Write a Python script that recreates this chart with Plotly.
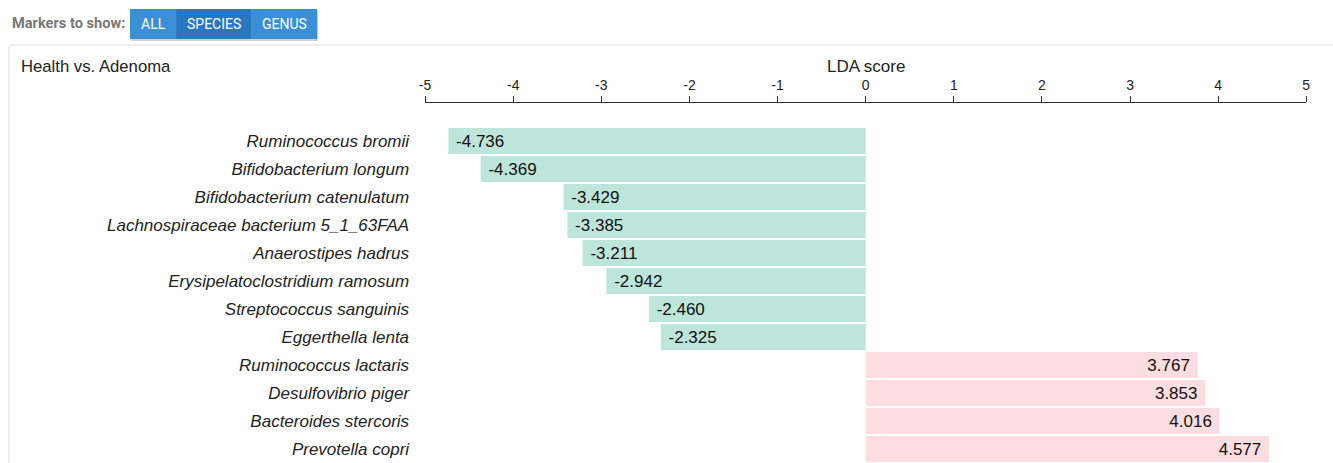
import plotly.graph_objects as go

W, H = 1333, 463

species = [
    "Ruminococcus bromii",
    "Bifidobacterium longum",
    "Bifidobacterium catenulatum",
    "Lachnospiraceae bacterium 5_1_63FAA",
    "Anaerostipes hadrus",
    "Erysipelatoclostridium ramosum",
    "Streptococcus sanguinis",
    "Eggerthella lenta",
    "Ruminococcus lactaris",
    "Desulfovibrio piger",
    "Bacteroides stercoris",
    "Prevotella copri",
]
lda_scores = [-4.736, -4.369, -3.429, -3.385, -3.211, -2.942, -2.460, -2.325,
              3.767, 3.853, 4.016, 4.577]
tick_values = [-5, -4, -3, -2, -1, 0, 1, 2, 3, 4, 5]
tick_labels = ["-5", "-4", "-3", "-2", "-1", "0", "1", "2", "3", "4", "5"]
buttons = ["ALL", "SPECIES", "GENUS"]

GREEN = "#bee5d9"
PINK = "#fcdde2"
NBSP = "\u00a0"
colors = [GREEN if v < 0 else PINK for v in lda_scores]
labels = [(NBSP + f"{v:.3f}") if v < 0 else (f"{v:.3f}" + NBSP) for v in lda_scores]

FONT = "Liberation Sans, Arial, sans-serif"

# small horizontal correction for how the page is captured
X_OFF, X_SCALE = 6.0, 0.9923


def px_x(x):
    return ((x - X_OFF) / X_SCALE) / W


def px_y(y):
    return 1 - y / H


fig = go.Figure()
fig.add_trace(go.Bar(
    x=lda_scores,
    y=species,
    orientation="h",
    marker=dict(color=colors, line=dict(width=0)),
    width=0.93,
    text=labels,
    textposition="inside",
    insidetextanchor="end",
    textangle=0,
    textfont=dict(family=FONT, size=17, color="#111"),
    hoverinfo="skip",
))

# layout: axis top at y=103px, -5 at x=425px, 5 at x=1306px
row_px = 28.0
first_center = 141.0
top_px = 103.0
y_top = -(first_center - top_px) / row_px
y_bot = (H - first_center) / row_px

fig.update_layout(
    width=W, height=H,
    margin=dict(l=0, r=0, t=0, b=0),
    paper_bgcolor="white",
    plot_bgcolor="white",
    showlegend=False,
    font=dict(family=FONT, color="#222"),
    xaxis=dict(
        domain=[px_x(425), px_x(1306)],
        range=[-5, 5],
        side="top",
        tickvals=tick_values,
        ticktext=tick_labels,
        showline=True, linecolor="#333", linewidth=1,
        ticks="outside", ticklen=6, tickcolor="#333", tickwidth=1,
        tickfont=dict(size=14, color="#222"),
        showgrid=False, zeroline=False,
        fixedrange=True,
    ),
    yaxis=dict(
        domain=[0, px_y(top_px)],
        type="category",
        categoryorder="array",
        categoryarray=species,
        range=[y_bot, y_top],
        showline=False, showgrid=False, zeroline=False,
        ticks="",
        ticklabelstandoff=15,
        tickfont=dict(size=17, color="#222", style="italic"),
        fixedrange=True,
    ),
)

shapes = []
# panel border
shapes.append(dict(type="path", xref="paper", yref="paper",
                   path=f"M {px_x(9)},{px_y(470)} L {px_x(9)},{px_y(48)} Q {px_x(9)},{px_y(45)} {px_x(12)},{px_y(45)} L {px_x(1345)},{px_y(45)}",
                   line=dict(color="#dcdcdc", width=1), layer="below"))
# button group shadow
shapes.append(dict(type="rect", xref="paper", yref="paper",
                   x0=px_x(131), x1=px_x(318), y0=px_y(41), y1=px_y(11),
                   fillcolor="rgba(0,0,0,0.18)", line=dict(width=0), layer="below"))
btn_edges = [130, 176, 251, 317]
btn_colors = ["#3a8fd5", "#2a77c0", "#3a8fd5"]
for i, name in enumerate(buttons):
    shapes.append(dict(type="rect", xref="paper", yref="paper",
                       x0=px_x(btn_edges[i]), x1=px_x(btn_edges[i + 1]),
                       y0=px_y(39), y1=px_y(9),
                       fillcolor=btn_colors[i], line=dict(width=0)))
fig.update_layout(shapes=shapes)

annotations = [
    dict(text="Markers to show:", x=px_x(10), y=px_y(23), xref="paper", yref="paper",
         xanchor="left", yanchor="middle", showarrow=False,
         font=dict(family="Roboto, Liberation Sans, sans-serif", size=14.6, color="#777", weight="bold")),
    dict(text="Health vs. Adenoma", x=px_x(19), y=px_y(67), xref="paper", yref="paper",
         xanchor="left", yanchor="middle", showarrow=False,
         font=dict(size=16.7, color="#222")),
    dict(text="LDA score", x=0, y=px_y(67), xref="x", yref="paper",
         xanchor="center", yanchor="middle", showarrow=False,
         font=dict(size=17, color="#222")),
]
for i, name in enumerate(buttons):
    annotations.append(dict(text=name, x=px_x((btn_edges[i] + btn_edges[i + 1]) / 2), y=px_y(24),
                            xref="paper", yref="paper", xanchor="center", yanchor="middle",
                            showarrow=False,
                            font=dict(family="Roboto, Liberation Sans, sans-serif", size=14, color="white")))
fig.update_layout(annotations=annotations)

fig.write_html("out.html", config={"displayModeBar": False},
               post_script="document.body.style.margin='0';document.body.style.overflow='hidden';")
